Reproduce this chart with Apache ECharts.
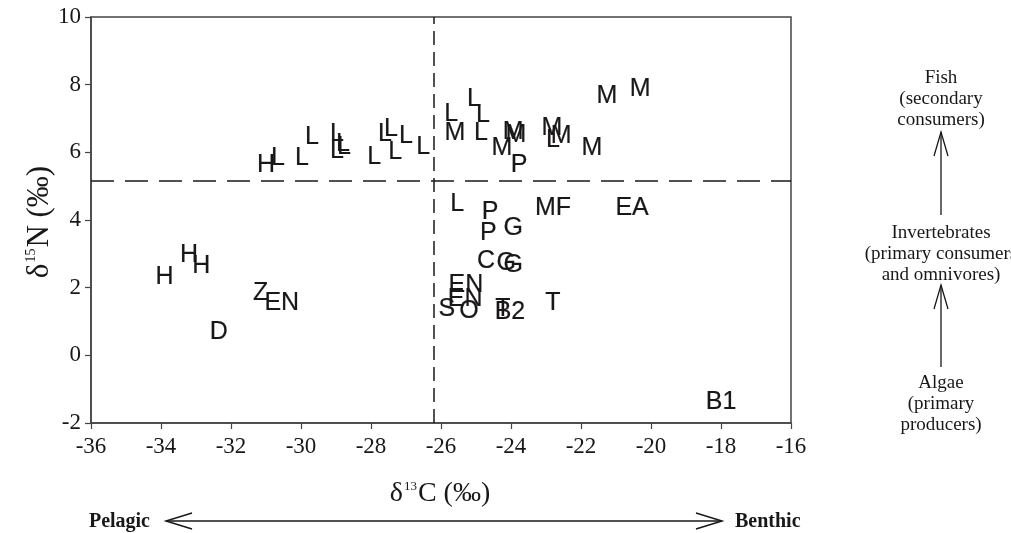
<!DOCTYPE html>
<html>
<head>
<meta charset="utf-8">
<script src="https://cdn.jsdelivr.net/npm/echarts@6/dist/echarts.min.js"></script>
<style>html,body{margin:0;padding:0;background:#fff}#c{width:1011px;height:533px}</style>
</head>
<body>
<div id="c"></div>
<script>
// Taxon codes and their isotope values (δ13C, δ15N)
var codes = ['H','H','H','Z','EN','D',
  'H','L','L','L','L','L','L','L','L','L','L','L','L','L',
  'L','L','L','L','M','M','M','M','P','M','M','L','M','M','M',
  'MF','EA','G','L','P','P','C','G','G','EN','EN','S','O','T','B2','T','B1'];
var d13C = [-33.9,-33.2,-32.85,-31.15,-30.55,-32.35,
  -31.0,-30.66,-29.97,-29.69,-28.97,-28.97,-28.8,-28.77,-27.91,-27.6,-27.43,-27.31,-27.0,-26.51,
  -25.71,-25.06,-24.8,-24.86,-25.6,-23.94,-23.86,-24.26,-23.77,-22.83,-22.57,-22.8,-21.69,-21.26,-20.31,
  -22.8,-20.54,-23.94,-25.54,-24.6,-24.65,-24.71,-24.14,-23.94,-25.29,-25.31,-25.83,-25.2,-24.23,-24.03,-22.8,-18.0];
var d15N = [2.31,2.96,2.64,1.85,1.55,0.69,
  5.63,5.83,5.83,6.45,6.54,6.04,6.25,6.16,5.86,6.54,6.69,6.01,6.48,6.16,
  7.13,7.58,7.1,6.57,6.57,6.6,6.51,6.13,5.63,6.72,6.48,6.36,6.13,7.66,7.87,
  4.35,4.35,3.76,4.47,4.24,3.6,2.79,2.73,2.67,2.08,1.66,1.37,1.31,1.37,1.28,1.55,-1.38];
var xTicks = [-36,-34,-32,-30,-28,-26,-24,-22,-20,-18,-16];
var yTicks = [-2,0,2,4,6,8,10];
var pelagicBenthicSplit = -26.2;  // vertical dashed divider (δ13C)
var trophicSplit = 5.15;          // horizontal dashed divider (δ15N)

var pts = codes.map(function(c,i){ return [d13C[i], d15N[i], c]; });

var ink = '#1a1718';
var serif = '"Liberation Serif","Times New Roman",serif';
var sans = '"Liberation Sans",Arial,sans-serif';

var chart = echarts.init(document.getElementById('c'), null, {renderer:'canvas'});

function arrowUp(x, yTop, yBot){
  return [
    {type:'line', shape:{x1:x,y1:yBot,x2:x,y2:yTop}, style:{stroke:ink,lineWidth:1.3}},
    {type:'polyline', shape:{points:[[x-7,yTop+24],[x,yTop],[x+7,yTop+24]]}, style:{stroke:ink,lineWidth:1.3,fill:null}}
  ];
}
function textBlock(x, y, lines){
  return {type:'text', x:x, y:y, style:{text:lines.join('\n'), font:'19px '+serif, fill:ink, align:'center', verticalAlign:'top', lineHeight:21}};
}

var graphics = [
  // x axis title
  {type:'text', x:440, y:494, style:{
    text:'{a|δ}{s|13}{a|C (‰)}', align:'center', verticalAlign:'middle', fill:ink,
    rich:{a:{fontFamily:serif,fontSize:28,fill:ink}, s:{fontFamily:serif,fontSize:13,fill:ink,verticalAlign:'top',padding:[0,1,0,1]}}
  }},
  // y axis title
  {type:'text', x:40, y:222, rotation:Math.PI/2, style:{
    text:'{a|δ}{s|15}{a|N (‰)}', align:'center', verticalAlign:'middle', fill:ink,
    rich:{a:{fontFamily:serif,fontSize:31,fill:ink}, s:{fontFamily:serif,fontSize:14,fill:ink,verticalAlign:'top',padding:[0,1,0,1]}}
  }},
  // Pelagic <-> Benthic
  {type:'text', x:150, y:522, style:{text:'Pelagic', font:'bold 20px '+serif, fill:ink, align:'right', verticalAlign:'middle'}},
  {type:'text', x:735, y:522, style:{text:'Benthic', font:'bold 20px '+serif, fill:ink, align:'left', verticalAlign:'middle'}},
  {type:'line', shape:{x1:166,y1:521,x2:722,y2:521}, style:{stroke:ink,lineWidth:1.5}},
  {type:'polyline', shape:{points:[[192,513],[166,521],[192,529]]}, style:{stroke:ink,lineWidth:1.5,fill:null}},
  {type:'polyline', shape:{points:[[696,513],[722,521],[696,529]]}, style:{stroke:ink,lineWidth:1.5,fill:null}},
  // trophic annotation
  textBlock(941, 68, ['Fish','(secondary','consumers)']),
  textBlock(941, 223, ['Invertebrates','(primary consumers','and omnivores)']),
  textBlock(941, 373, ['Algae','(primary','producers)'])
].concat(arrowUp(941,132,215)).concat(arrowUp(941,285,367));

chart.setOption({
  animation:false,
  backgroundColor:'#fff',
  grid:{left:91, top:17, width:700, height:406, show:true, borderColor:'#444', borderWidth:1.5, backgroundColor:'transparent'},
  xAxis:{type:'value', min:xTicks[0], max:xTicks[xTicks.length-1], interval:2,
    axisLine:{show:true, onZero:false, lineStyle:{color:'#444',width:1.5}},
    axisTick:{show:true, inside:false, length:6, lineStyle:{color:'#444',width:1.2}},
    axisLabel:{color:ink, fontFamily:serif, fontSize:23, margin:12},
    splitLine:{show:false}},
  yAxis:{type:'value', min:yTicks[0], max:yTicks[yTicks.length-1], interval:2,
    axisLine:{show:true, onZero:false, lineStyle:{color:'#444',width:1.5}},
    axisTick:{show:true, inside:false, length:6, lineStyle:{color:'#444',width:1.2}},
    axisLabel:{color:ink, fontFamily:serif, fontSize:23, margin:10},
    splitLine:{show:false}},
  graphic:graphics,
  series:[{
    type:'scatter', data:pts, symbolSize:1, itemStyle:{color:'rgba(0,0,0,0)'},
    label:{show:true, position:'inside', formatter:function(p){return p.value[2];},
      color:'#1a1718', fontFamily:sans, fontSize:25, align:'center', verticalAlign:'middle',
      textBorderColor:'#1a1718', textBorderWidth:0.2, opacity:1},
    labelLayout:{hideOverlap:false},
    markLine:{silent:true, symbol:['none','none'], label:{show:false},
      data:[
        {xAxis:pelagicBenthicSplit, lineStyle:{type:[14,7], color:ink, width:1.5}},
        {yAxis:trophicSplit, lineStyle:{type:[23,11], color:ink, width:1.5}}
      ]}
  }]
});
</script>
</body>
</html>
